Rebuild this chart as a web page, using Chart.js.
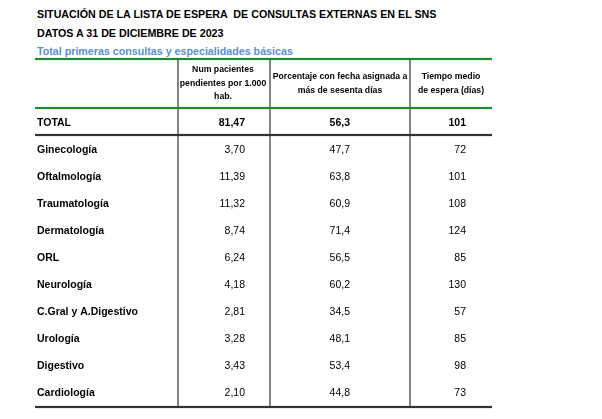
<!DOCTYPE html>
<html><head><meta charset="utf-8">
<script src="https://cdn.jsdelivr.net/npm/chart.js@4"></script>
<style>
body{margin:0;background:#fff;font-family:"Liberation Sans",Arial,sans-serif}
#wrap{position:relative;width:602px;height:419px}
.t{position:absolute;left:37px;font-weight:bold;font-size:10.7px;line-height:12px;color:#000}
</style></head><body>
<div id="wrap">
<div class="t" style="top:8px">SITUACIÓN DE LA LISTA DE ESPERA &nbsp;DE CONSULTAS EXTERNAS EN EL SNS</div>
<div class="t" style="top:27px">DATOS A 31 DE DICIEMBRE DE 2023</div>
<div class="t" style="top:45px;color:#5b8fd0">Total primeras consultas y especialidades básicas</div>
<canvas id="c" width="602" height="419" style="position:absolute;left:0;top:0"></canvas>
</div>
<script>
// ----- table data -----
const categories = ["TOTAL","Ginecología","Oftalmología","Traumatología","Dermatología","ORL",
  "Neurología","C.Gral y A.Digestivo","Urología","Digestivo","Cardiología"];
const pacientes = ["81,47","3,70","11,39","11,32","8,74","6,24","4,18","2,81","3,28","3,43","2,10"];
const porcentaje = ["56,3","47,7","63,8","60,9","71,4","56,5","60,2","34,5","48,1","53,4","44,8"];
const tiempo = ["101","72","101","108","124","85","130","57","85","98","73"];
const headers = [
  ["Num pacientes","pendientes por 1.000","hab."],
  ["Porcentaje con fecha asignada a","más de sesenta días"],
  ["Tiempo medio","de espera (días)"]
];

//column geometry in x-scale units (0..457 across the table)
const colDividers = [143, 235, 375];
const colCenters = [188, 305, 416];
const colRight = [210, 315, 431];

const tablePlugin = {
  id: "table",
  afterDraw(chart) {
    const { ctx, scales: { x, y } } = chart;
    const L = x.getPixelForValue(0), R = x.getPixelForValue(457);
    const hline = (v, color, w) => {
      const py = Math.round(y.getPixelForValue(v));
      ctx.fillStyle = color; ctx.fillRect(L, py - w / 2, R - L, w);
    };
    //vertical dividers
    ctx.fillStyle = "#2d3a30";
    colDividers.forEach(v => {
      const px = Math.round(x.getPixelForValue(v));
      ctx.fillRect(px - 0.6, y.getPixelForValue(-2.35), 1.2, y.getPixelForValue(10.5) - y.getPixelForValue(-2.35));
    });
    hline(-2.35, "#1f8a2e", 2.2);
    hline(-0.55, "#1f8a2e", 2.2);
    hline(0.45, "#333", 2.2);
    hline(10.5, "#333", 2.2);

    //headers
    ctx.fillStyle = "#000";
    ctx.textAlign = "center"; ctx.textBaseline = "middle";
    ctx.font = "bold 8.7px 'Liberation Sans', Arial";
    headers.forEach((lines, c) => {
      const cx = x.getPixelForValue(colCenters[c]);
      const cy = y.getPixelForValue(-1.45);
      lines.forEach((s, k) => ctx.fillText(s, cx, cy + (k - (lines.length - 1) / 2) * 13.5));
    });

    //rows
    categories.forEach((cat, i) => {
      const py = y.getPixelForValue(i);
      const bold = i === 0;
      ctx.textAlign = "left";
      ctx.font = "bold 10.5px 'Liberation Sans', Arial";
      ctx.fillText(cat, x.getPixelForValue(2), py);
      ctx.textAlign = "right";
      ctx.font = (bold ? "bold " : "") + "10.5px 'Liberation Sans', Arial";
      [pacientes[i], porcentaje[i], tiempo[i]].forEach((v, c) =>
        ctx.fillText(v, x.getPixelForValue(colRight[c]), py));
    });
  }
};

new Chart(document.getElementById("c"), {
  type: "scatter",
  data: { datasets: [{ data: categories.map((c, i) => ({ x: 0, y: i })), pointRadius: 0 }] },
  options: {
    responsive: false, animation: false,
    layout: { padding: { left: 35, right: 110, top: 59, bottom: 12 } },
    plugins: { legend: { display: false }, tooltip: { enabled: false } },
    scales: {
      x: { type: "linear", min: 0, max: 457, display: false },
      y: { type: "linear", min: -2.35, max: 10.5, reverse: true, display: false }
    }
  },
  plugins: [tablePlugin]
});
</script>
</body></html>
